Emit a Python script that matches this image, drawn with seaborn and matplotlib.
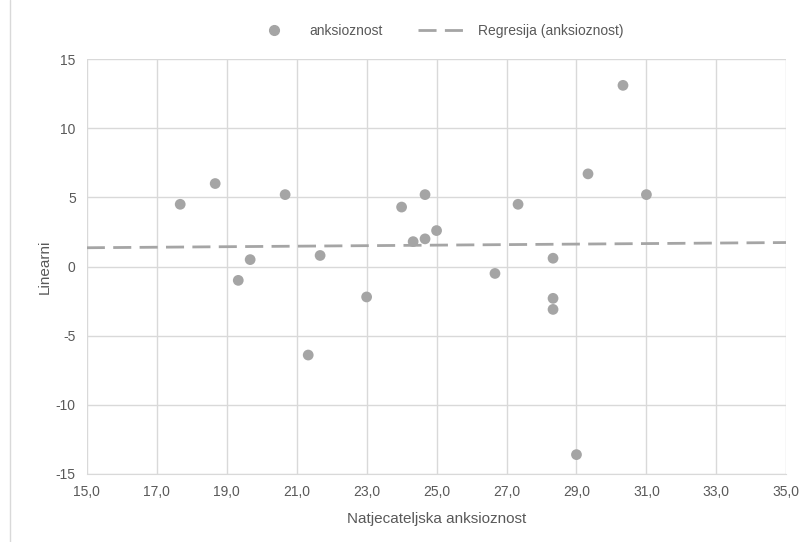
import matplotlib
matplotlib.use("Agg")
import matplotlib.pyplot as plt
from matplotlib.lines import Line2D
import seaborn as sns
import pandas as pd

# ── Data ──────────────────────────────────────────────────────────────────────
anksioznost = [17.67, 18.67, 19.33, 19.67, 20.67, 21.33, 21.67, 23.0, 24.0, 24.33,
               24.67, 24.67, 25.0, 26.67, 27.33, 28.33, 28.33, 28.33, 29.0, 29.33,
               30.33, 31.0]
linearni = [4.5, 6.0, -1.0, 0.5, 5.2, -6.4, 0.8, -2.2, 4.3, 1.8,
            2.0, 5.2, 2.6, -0.5, 4.5, 0.6, -2.3, -3.1, -13.6, 6.7,
            13.1, 5.2]
x_ticks = [15, 17, 19, 21, 23, 25, 27, 29, 31, 33, 35]
y_ticks = [-15, -10, -5, 0, 5, 10, 15]

df = pd.DataFrame({"x": anksioznost, "y": linearni})

# ── Style ─────────────────────────────────────────────────────────────────────
sns.set_style("white")
plt.rcParams["font.family"] = ["Liberation Sans Narrow", "Liberation Sans", "DejaVu Sans"]
GREY = "#A5A5A5"
TEXT = "#595959"
GRID = "#D9D9D9"
DASH = (0, (6.5, 3))

fig = plt.figure(figsize=(8.04, 5.42), dpi=100)
ax = fig.add_axes([0.108, 0.1255, 0.870, 0.7655])
ax.set_xlim(15, 35)
ax.set_ylim(-15, 15)

sns.scatterplot(data=df, x="x", y="y", ax=ax, color=GREY, s=60,
                edgecolor="none", label="anksioznost", zorder=3)
sns.regplot(data=df, x="x", y="y", ax=ax, scatter=False, ci=None,
            truncate=False, color=GREY,
            line_kws={"linestyle": DASH, "linewidth": 2.0},
            label="Regresija (anksioznost)")
ax.set_xlim(15, 35)
ax.set_ylim(-15, 15)

ax.set_xticks(x_ticks)
ax.set_xticklabels([f"{t:.1f}".replace(".", ",") for t in x_ticks])
ax.set_yticks(y_ticks)
ax.set_yticklabels([str(t) for t in y_ticks])
ax.grid(True, color=GRID, linewidth=1)
ax.set_axisbelow(True)
for s in ["top", "right", "left"]:
    ax.spines[s].set_visible(False)
ax.spines["bottom"].set_color(GRID)
ax.tick_params(axis="both", length=0, colors=TEXT, labelsize=10, pad=8)
ax.set_xlabel("Natjecateljska anksioznost", color=TEXT, fontsize=11, labelpad=9)
ax.set_ylabel("Linearni", color=TEXT, fontsize=11, labelpad=3)

handles = [Line2D([], [], marker="o", linestyle="none", color=GREY, markersize=7),
           Line2D([], [], color=GREY, linestyle=DASH, linewidth=2.0)]
ax.legend(handles, ["anksioznost", "Regresija (anksioznost)"], loc="lower center",
          bbox_to_anchor=(0.5, 1.02), ncol=2, frameon=False, fontsize=10,
          labelcolor=TEXT, handlelength=3.5, columnspacing=2.5)

fig.add_artist(Line2D([0.013, 0.013], [0, 1], color=GRID, linewidth=1))

fig.savefig("out.png", dpi=100)
